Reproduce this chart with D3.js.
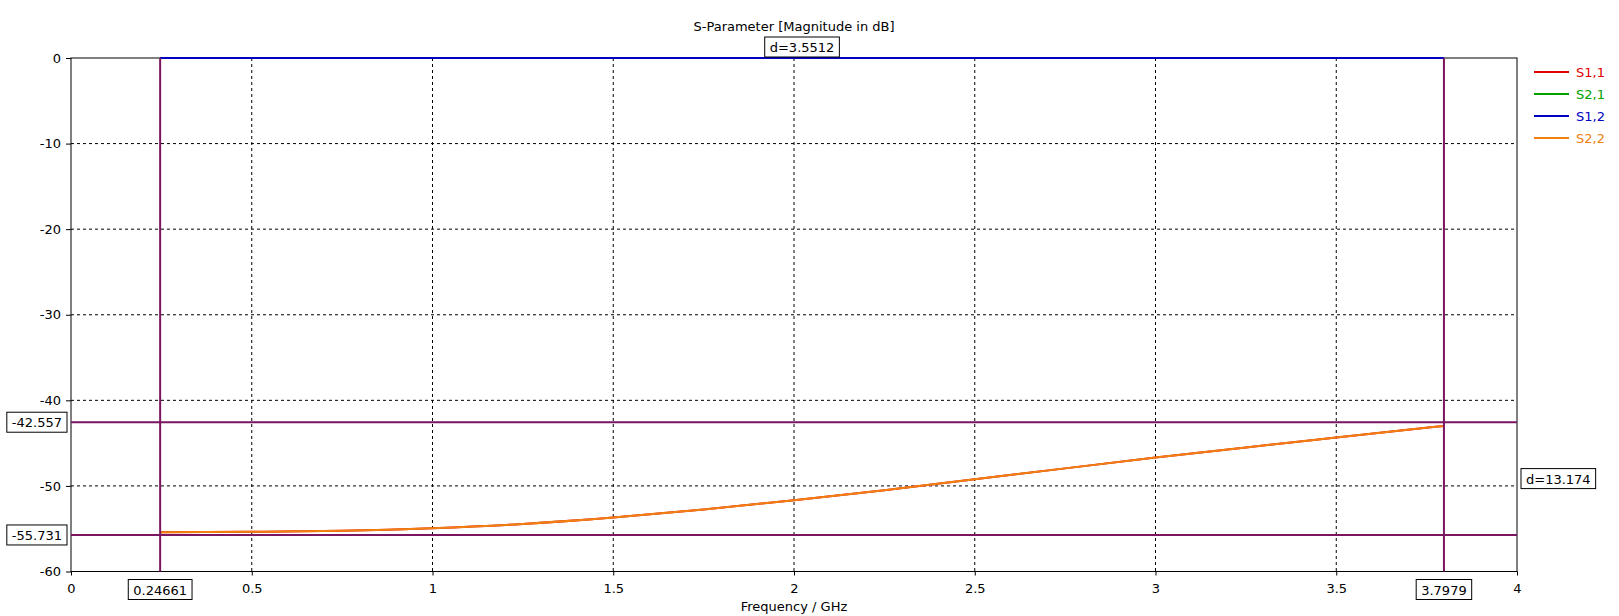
<!DOCTYPE html>
<html>
<head>
<meta charset="utf-8">
<script src="https://cdn.jsdelivr.net/npm/d3@7"></script>
<style>
  body { margin: 0; background: #fff; }
  text { font-family: "DejaVu Sans", Verdana, sans-serif; font-size: 13px; fill: #000; }
</style>
</head>
<body>
<svg width="1619" height="616"></svg>
<script>
freqs = [0.24661, 0.5, 0.75, 1.0, 1.25, 1.5, 1.75, 2.0, 2.25, 2.5, 2.75, 3.0, 3.25, 3.5, 3.7979]
// S2,2 in dB (S1,1 sits right under it)
s22 = [-55.40, -55.36, -55.25, -54.95, -54.45, -53.70, -52.75, -51.68, -50.50, -49.22, -47.95, -46.69, -45.50, -44.35, -42.99]
s11 = [-55.40, -55.36, -55.25, -54.95, -54.45, -53.70, -52.75, -51.68, -50.50, -49.22, -47.95, -46.69, -45.50, -44.35, -42.99]
// transmission, flat at 0 dB
s21 = [0, 0, 0, 0, 0, 0, 0, 0, 0, 0, 0, 0, 0, 0, 0]
s12 = [0, 0, 0, 0, 0, 0, 0, 0, 0, 0, 0, 0, 0, 0, 0]

seriesNames = ['S1,1', 'S2,1', 'S1,2', 'S2,2']
seriesColors = ['#e00000', '#00a000', '#0000c0', '#f08010']

xTicks = [0, 0.5, 1, 1.5, 2, 2.5, 3, 3.5, 4]
yTicks = [0, -10, -20, -30, -40, -50, -60]

markerX = [0.24661, 3.7979]
markerY = [-42.557, -55.731]
markerXLabels = ['0.24661', '3.7979']
markerYLabels = ['-42.557', '-55.731']
deltaX = 'd=3.5512'
deltaY = 'd=13.174'

let svg = d3.select('svg')
let pLeft = 71, pRight = 1517, pTop = 58, pBottom = 571.5
let markColor = '#7a1560'

let x = d3.scaleLinear().domain([0, 4]).range([pLeft, pRight])
let y = d3.scaleLinear().domain([-60, 0]).range([pBottom, pTop])

// title
svg.append('text')
    .attr('x', (pLeft + pRight) / 2).attr('y', 31)
    .attr('text-anchor', 'middle')
    .text('S-Parameter [Magnitude in dB]')

// grid
svg.append('g').selectAll('line').data(xTicks.slice(1, -1)).enter().append('line')
    .attr('x1', d => x(d)).attr('x2', d => x(d))
    .attr('y1', pTop).attr('y2', pBottom)
    .style('stroke', '#000').style('stroke-dasharray', '3,3')
svg.append('g').selectAll('line').data(yTicks.slice(1, -1)).enter().append('line')
    .attr('y1', d => y(d)).attr('y2', d => y(d))
    .attr('x1', pLeft).attr('x2', pRight)
    .style('stroke', '#000').style('stroke-dasharray', '3,3')

// axes (plain hyphen for minus, like the original)
xAxis = svg.append('g').attr('transform', `translate(0,${pBottom})`)
    .call(d3.axisBottom(x).tickValues(xTicks).tickFormat(d => String(d)).tickSize(4).tickPadding(8))
yAxis = svg.append('g').attr('transform', `translate(${pLeft},0)`)
    .call(d3.axisLeft(y).tickValues(yTicks).tickFormat(d => String(d)).tickSize(5).tickPadding(5))
svg.selectAll('.domain').remove()
svg.selectAll('.tick text').style('font-family', '"DejaVu Sans", sans-serif').style('font-size', '13px')

// plot frame
svg.append('rect')
    .attr('x', pLeft).attr('y', pTop)
    .attr('width', pRight - pLeft).attr('height', pBottom - pTop)
    .style('fill', 'none').style('stroke', '#000')

svg.append('text')
    .attr('x', (pLeft + pRight) / 2).attr('y', 611)
    .attr('text-anchor', 'middle')
    .text('Frequency / GHz')

// curves
let line = d3.line().x((d, i) => x(freqs[i])).y(d => y(d)).curve(d3.curveMonotoneX)
;[s11, s21, s12, s22].forEach((s, i) => {
    svg.append('path')
        .attr('d', line(s))
        .style('fill', 'none')
        .style('stroke', seriesColors[i])
        .style('stroke-width', 2)
})

// markers
svg.append('g').selectAll('line').data(markerX).enter().append('line')
    .attr('x1', d => x(d)).attr('x2', d => x(d))
    .attr('y1', pTop).attr('y2', pBottom)
    .style('stroke', markColor).style('stroke-width', 2)
svg.append('g').selectAll('line').data(markerY).enter().append('line')
    .attr('y1', d => y(d)).attr('y2', d => y(d))
    .attr('x1', pLeft).attr('x2', pRight)
    .style('stroke', markColor).style('stroke-width', 2)

function box(cx, cy, txt, anchor) {
    let g = svg.append('g')
    let t = g.append('text').attr('y', cy + 5).text(txt)
    let w = t.node().getComputedTextLength() + 10
    let x0 = anchor == 'middle' ? cx - w / 2 : anchor == 'end' ? cx - w : cx
    t.attr('x', x0 + 5)
    g.insert('rect', 'text')
        .attr('x', x0).attr('y', cy - 10)
        .attr('width', w).attr('height', 20)
        .style('fill', '#fff').style('stroke', '#000')
}

markerX.forEach((m, i) => box(x(m), 589.5, markerXLabels[i], 'middle'))
markerY.forEach((m, i) => box(67, y(m), markerYLabels[i], 'end'))
box((x(markerX[0]) + x(markerX[1])) / 2, 47, deltaX, 'middle')
box(1521, (y(markerY[0]) + y(markerY[1])) / 2, deltaY, 'start')

// legend
let legend = svg.append('g')
seriesNames.forEach((n, i) => {
    let ly = 72 + i * 22
    legend.append('line')
        .attr('x1', 1534).attr('x2', 1569).attr('y1', ly).attr('y2', ly)
        .style('stroke', seriesColors[i]).style('stroke-width', 2)
    legend.append('text')
        .attr('x', 1576).attr('y', ly + 5)
        .style('fill', seriesColors[i])
        .text(n)
})
</script>
</body>
</html>
